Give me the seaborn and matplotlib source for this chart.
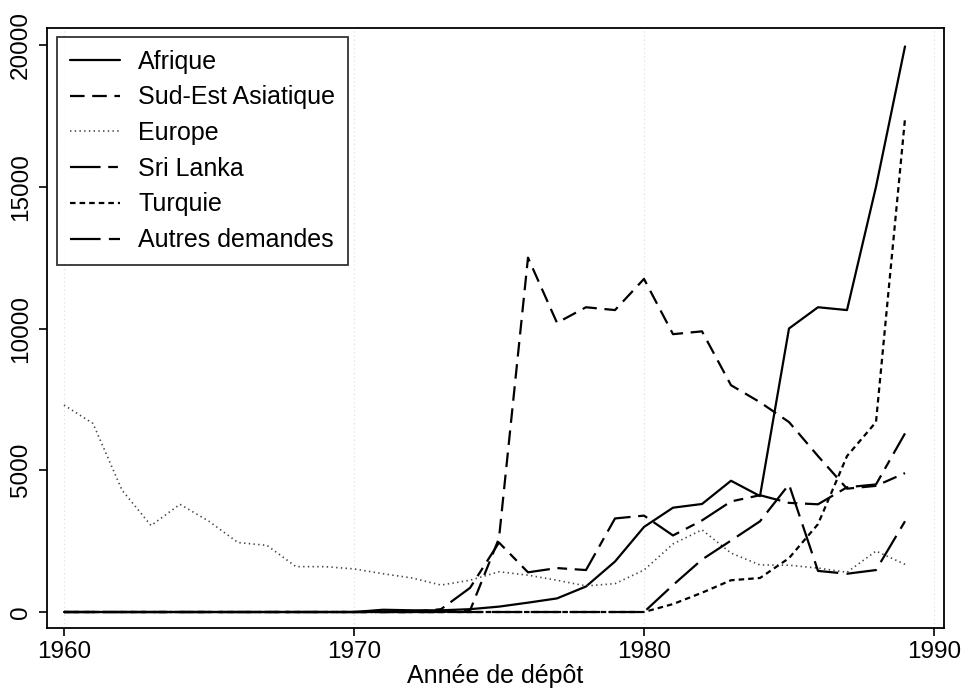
import numpy as np
import pandas as pd
import seaborn as sns
import matplotlib
matplotlib.use("Agg")
from matplotlib import pyplot as plt

#%%

years = list(range(1960, 1990))

afrique = [0] * 11 + [80, 60, 60, 100, 190, 330, 480, 900, 1780,
                      3000, 3680, 3810, 4630, 4090, 10000, 10750, 10650, 15000, 19950]
sud_est = [0] * 14 + [50, 2600, 12500, 10200, 10750, 10650,
                      11750, 9800, 9900, 8000, 7400, 6700, 5500, 4350, 4450, 4900]
europe = [7300, 6650, 4300, 3050, 3800, 3200, 2450, 2350, 1600, 1600,
          1520, 1350, 1200, 950, 1120, 1420, 1300, 1120, 920, 1000,
          1480, 2400, 2900, 2080, 1660, 1650, 1550, 1400, 2150, 1680]
sri_lanka = [0] * 13 + [100, 850, 2450, 1400, 1550, 1480, 3300,
                        3400, 2700, 3230, 3900, 4120, 3850, 3800, 4400, 4500, 6300]
turquie = [0] * 21 + [280, 680, 1120, 1200, 1900, 3100, 5500, 6700, 17400]
autres = [0] * 21 + [950, 1850, 2520, 3200, 4500, 1450, 1350, 1480, 3200]

labels = ["Afrique", "Sud-Est Asiatique", "Europe", "Sri Lanka", "Turquie", "Autres demandes"]
series = [afrique, sud_est, europe, sri_lanka, turquie, autres]

# dash codes in points
styles = {
    "Afrique": dict(ls="-", lw=1.6, color="black"),
    "Sud-Est Asiatique": dict(ls=(0, (10.5, 5.5)), lw=1.6, color="black"),
    "Europe": dict(ls=(0, (1.0, 2.4)), lw=1.2, color="#444444"),
    "Sri Lanka": dict(ls=(0, (22, 5.5, 7, 5.5)), lw=1.6, color="black"),
    "Turquie": dict(ls=(0, (4.0, 2.9)), lw=1.6, color="black"),
    "Autres demandes": dict(ls=(0, (22, 6)), lw=1.6, color="black"),
}

#%%

sns.set_style("white")
plt.rcParams["font.family"] = ["Liberation Sans", "DejaVu Sans"]
plt.rcParams["lines.scale_dashes"] = False
for k in ["text.color", "axes.labelcolor", "xtick.color", "ytick.color"]:
    plt.rcParams[k] = "black"

fig = plt.figure(figsize=(9.61, 6.93), dpi=100)
ax = fig.add_axes([47 / 961, 1 - 628 / 693, (944 - 47) / 961, (628 - 28) / 693])

for name, vals in zip(labels, series):
    st = styles[name]
    sns.lineplot(x=years, y=vals, ax=ax, label=name, color=st["color"],
                 linewidth=st["lw"], linestyle=st["ls"])

ax.set_xlim(1960 - 17 / 29, 1990 + 10 / 29)
ax.set_ylim(-564, 20600)
ax.set_xticks([1960, 1970, 1980, 1990])
ax.set_yticks([0, 5000, 10000, 15000, 20000])
ax.set_xlabel("Année de dépôt", fontsize=18, labelpad=1)
ax.set_ylabel("")

for x in [1960, 1970, 1980, 1990]:
    ax.axvline(x, color="#e2e2e2", lw=0.8, ls=(0, (1, 2)), zorder=0)

for sp in ax.spines.values():
    sp.set_color("black")
    sp.set_linewidth(1.3)

ax.tick_params(axis="both", which="major", labelsize=17.5, length=6, width=1.2,
               color="black", direction="out", bottom=True, left=True)
ax.tick_params(axis="x", pad=3)
ax.tick_params(axis="y", pad=5)
for t in ax.get_yticklabels():
    t.set_rotation(90)
    t.set_va("center")

leg = ax.legend(loc="upper left", bbox_to_anchor=(10 / 897, 1 - 9 / 600),
                fontsize=18, frameon=True, fancybox=False, handlelength=2.0,
                handletextpad=0.75, labelspacing=0.47, borderpad=0.5,
                borderaxespad=0)
leg.get_frame().set_edgecolor("black")
leg.get_frame().set_linewidth(1.3)
for t in leg.get_texts():
    t.set_color("black")

fig.savefig("out.png", dpi=100, facecolor="white")
